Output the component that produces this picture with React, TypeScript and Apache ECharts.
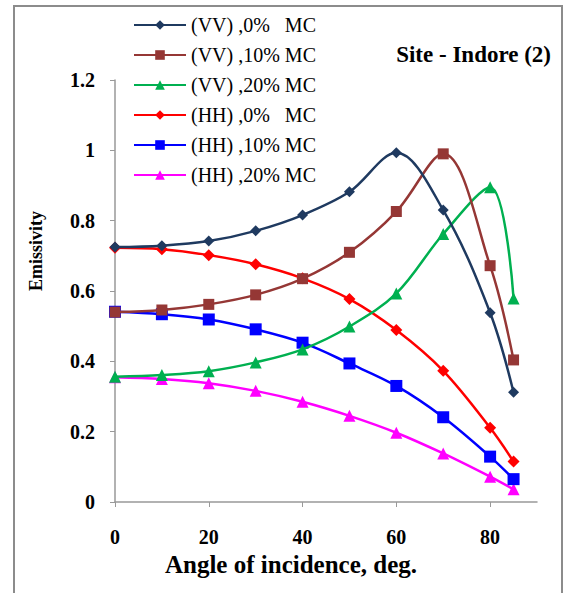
import React, { useEffect, useRef } from "react";
import * as echarts from "echarts";

const angles = [0, 10, 20, 30, 40, 50, 60, 70, 80, 85];
const seriesNames = [
  "(VV) ,0%   MC",
  "(VV) ,10% MC",
  "(VV) ,20% MC",
  "(HH) ,0%   MC",
  "(HH) ,10% MC",
  "(HH) ,20% MC",
];
const vv0 = [0.725, 0.729, 0.742, 0.771, 0.816, 0.882, 0.993, 0.83, 0.538, 0.312];
const vv10 = [0.54, 0.546, 0.562, 0.589, 0.635, 0.71, 0.826, 0.99, 0.672, 0.404];
const vv20 = [0.356, 0.361, 0.372, 0.397, 0.434, 0.499, 0.593, 0.762, 0.895, 0.579];
const hh0 = [0.723, 0.719, 0.702, 0.676, 0.636, 0.577, 0.489, 0.373, 0.211, 0.115];
const hh10 = [0.541, 0.534, 0.519, 0.491, 0.453, 0.394, 0.33, 0.241, 0.129, 0.065];
const hh20 = [0.355, 0.35, 0.338, 0.316, 0.285, 0.245, 0.197, 0.138, 0.072, 0.036];
const xTicks = [0, 20, 40, 60, 80];
const titleText = "Site - Indore (2)";
const xAxisTitle = "Angle of incidence, deg.";
const yAxisTitle = "Emissivity";

const allValues = [vv0, vv10, vv20, hh0, hh10, hh20];
const colors = ["#1F3A60", "#953735", "#00B050", "#FF0000", "#0000FF", "#FF00FF"];
const symbols = ["diamond", "rect", "triangle", "diamond", "rect", "triangle"];
const symbolSizes = [11, 11, 12, 12, 12, 12];

const SERIF = "Liberation Serif";

export default function App() {
  const ref = useRef<HTMLDivElement>(null);
  useEffect(() => {
    if (!ref.current) return;
    const chart = echarts.init(ref.current, undefined, { renderer: "svg" });
    const series = allValues.map((vals, i) => ({
      name: seriesNames[i],
      type: "line",
      data: vals.map((v, j) => [angles[j], v]),
      smooth: 0.35,
      symbol: symbols[i],
      symbolSize: symbolSizes[i],
      showAllSymbol: true,
      lineStyle: { color: colors[i], width: 2.5 },
      itemStyle: { color: colors[i] },
      z: 10 - i,
    }));
    chart.setOption({
      animation: false,
      backgroundColor: "#ffffff",
      textStyle: { fontFamily: SERIF },
      title: {
        text: titleText,
        right: 8,
        top: 38,
        textStyle: { fontFamily: SERIF, fontWeight: "bold", fontSize: 23, color: "#000" },
      },
      legend: {
        orient: "vertical",
        left: 128,
        top: 10,
        itemWidth: 52,
        itemHeight: 12,
        itemGap: 10,
        data: seriesNames,
        textStyle: { fontFamily: SERIF, fontSize: 20, color: "#000" },
      },
      grid: { left: 115, top: 80, right: 27, bottom: 91, containLabel: false },
      xAxis: {
        type: "value",
        min: 0,
        max: 90,
        interval: 20,
        name: xAxisTitle,
        nameLocation: "middle",
        nameGap: 50,
        nameTextStyle: {
          fontFamily: SERIF,
          fontWeight: "bold",
          fontSize: 25,
          color: "#000",
          padding: [0, 70, 0, 0],
        },
        axisLine: { show: true, lineStyle: { color: "#999", width: 1.5 } },
        axisTick: { show: true, length: 5, customValues: xTicks, lineStyle: { color: "#999" } },
        axisLabel: {
          customValues: xTicks,
          margin: 25,
          fontFamily: SERIF,
          fontWeight: "bold",
          fontSize: 20,
          color: "#000",
        },
        splitLine: { show: false },
      },
      yAxis: {
        type: "value",
        min: 0,
        max: 1.2,
        interval: 0.2,
        name: yAxisTitle,
        nameLocation: "middle",
        nameGap: 70,
        nameTextStyle: {
          fontFamily: SERIF,
          fontWeight: "bold",
          fontSize: 18,
          color: "#000",
          padding: [0, 0, 0, 80],
        },
        axisLine: { show: true, lineStyle: { color: "#999", width: 1.5 } },
        axisTick: { show: true, length: 5, lineStyle: { color: "#999" } },
        axisLabel: {
          margin: 20,
          fontFamily: SERIF,
          fontWeight: "bold",
          fontSize: 20,
          color: "#000",
          formatter: (v: number) => String(Math.round(v * 10) / 10),
        },
        splitLine: { show: false },
      },
      graphic: [
        {
          type: "rect",
          shape: { x: 14, y: 6, width: 548, height: 620 },
          style: { fill: "none", stroke: "#8c8c8c", lineWidth: 2 },
          silent: true,
        },
      ],
      series,
    });
    return () => chart.dispose();
  }, []);
  return (
    <div
      ref={ref}
      style={{ position: "fixed", left: 0, top: 0, width: 564, height: 593 }}
    />
  );
}
